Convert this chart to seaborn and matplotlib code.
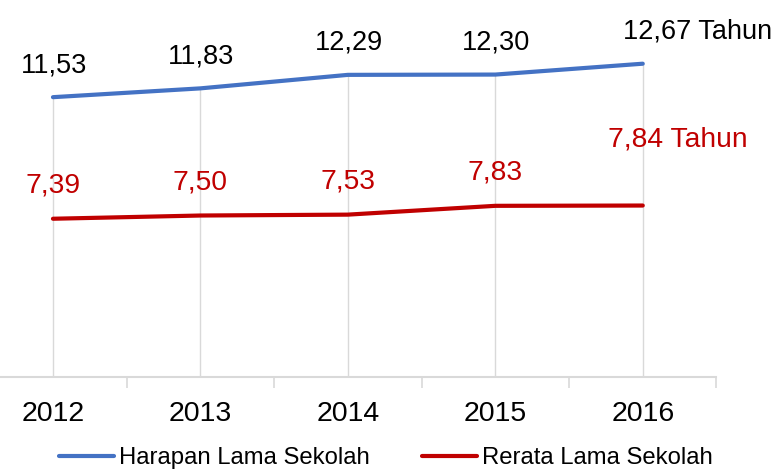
import pandas as pd
import seaborn as sns
import matplotlib.pyplot as plt

years = ["2012", "2013", "2014", "2015", "2016"]
harapan = [11.53, 11.83, 12.29, 12.30, 12.67]
rerata = [7.39, 7.50, 7.53, 7.83, 7.84]
series_names = ["Harapan Lama Sekolah", "Rerata Lama Sekolah"]
colors = ["#4472C4", "#C00000"]

sns.set_style("white")
plt.rcParams['font.family'] = ['Liberation Sans', 'DejaVu Sans']

df = pd.DataFrame({
    "pos": list(range(len(years))) * 2,
    "value": harapan + rerata,
    "series": [series_names[0]] * len(years) + [series_names[1]] * len(years),
})

fig = plt.figure(figsize=(7.72, 4.74), dpi=100)
ax = fig.add_axes([-0.0269, 0.2046, 0.955, 0.7434])

# drop lines from the top series down to the axis
ax.vlines(range(len(years)), 2, harapan, color="#D9D9D9", lw=1, zorder=1)

sns.lineplot(data=df, x="pos", y="value", hue="series", palette=colors,
             linewidth=3, ax=ax, legend=False, zorder=3)

ax.set_xlim(-0.5, len(years) - 0.5)
ax.set_ylim(2, 14)
ax.set_xlabel("")
ax.set_ylabel("")
ax.set_yticks([])

def fmt(v):
    return f"{v:.2f}".replace(".", ",")

for i, v in enumerate(harapan):
    if i == len(years) - 1:
        ax.annotate(fmt(v) + " Tahun", (i, v), xytext=(-20, 32), textcoords="offset pixels",
                    ha="left", va="center", fontsize=19.5, color="black")
    else:
        ax.annotate(fmt(v), (i, v), xytext=(1, 32), textcoords="offset pixels",
                    ha="center", va="center", fontsize=19.5, color="black")
for i, v in enumerate(rerata):
    if i == len(years) - 1:
        ax.annotate(fmt(v) + " Tahun", (i, v), xytext=(-35, 66), textcoords="offset pixels",
                    ha="left", va="center", fontsize=20.3, color="#C00000")
    else:
        ax.annotate(fmt(v), (i, v), xytext=(0, 33), textcoords="offset pixels",
                    ha="center", va="center", fontsize=20.3, color="#C00000")

# category labels at centres, tick marks at boundaries
ax.set_xticks(range(len(years)))
ax.set_xticklabels(years, fontsize=20.5, color="black")
ax.tick_params(axis="x", which="major", bottom=False, length=0, pad=17)
ax.set_xticks([i + 0.5 for i in range(len(years))], minor=True)
ax.tick_params(axis="x", which="minor", bottom=True, length=8, width=1.2,
               color="#D9D9D9", direction="out")

for s in ["top", "right", "left"]:
    ax.spines[s].set_visible(False)
ax.spines["bottom"].set_color("#D9D9D9")
ax.spines["bottom"].set_linewidth(1.5)

handles = [plt.Line2D([], [], color=c, lw=3) for c in colors]
leg = fig.legend(handles, series_names, loc="center", bbox_to_anchor=(0.5, 0.034),
                 ncol=2, frameon=False, fontsize=17.2, handlelength=2.3,
                 handletextpad=0.2, columnspacing=2.2)
for t in leg.get_texts():
    t.set_color("black")

fig.savefig("out.png", dpi=100)
